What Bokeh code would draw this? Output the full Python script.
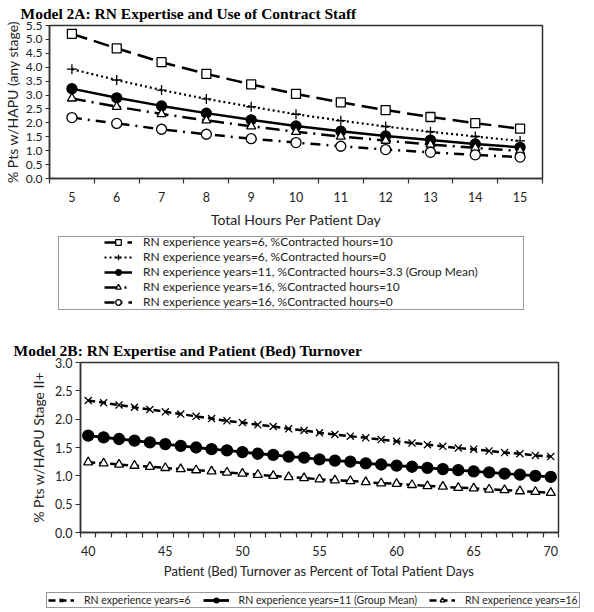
from bokeh.plotting import figure
from bokeh.models import FixedTicker, Legend, LegendItem, Range1d, NumeralTickFormatter
from bokeh.layouts import column
from bokeh.embed import file_html
from bokeh.resources import INLINE

# ---------------- data: Model 2A ----------------
hours = [5, 6, 7, 8, 9, 10, 11, 12, 13, 14, 15]
yrs6_ct10 = [5.20, 4.68, 4.18, 3.76, 3.38, 3.04, 2.74, 2.46, 2.21, 1.99, 1.79]
yrs6_ct0 = [3.93, 3.54, 3.18, 2.86, 2.58, 2.31, 2.08, 1.87, 1.68, 1.51, 1.35]
yrs11_ct33 = [3.23, 2.90, 2.61, 2.35, 2.11, 1.89, 1.70, 1.53, 1.38, 1.24, 1.12]
yrs16_ct10 = [2.88, 2.58, 2.32, 2.09, 1.88, 1.68, 1.51, 1.36, 1.22, 1.10, 0.99]
yrs16_ct0 = [2.19, 1.98, 1.77, 1.59, 1.43, 1.29, 1.16, 1.04, 0.94, 0.85, 0.77]
labels_2a = [
    "RN experience years=6, %Contracted hours=10",
    "RN experience years=6, %Contracted hours=0",
    "RN experience years=11, %Contracted hours=3.3 (Group Mean)",
    "RN experience years=16, %Contracted hours=10",
    "RN experience years=16, %Contracted hours=0",
]
yticks_2a = [0.0, 0.5, 1.0, 1.5, 2.0, 2.5, 3.0, 3.5, 4.0, 4.5, 5.0, 5.5]

# ---------------- data: Model 2B ----------------
turnover = list(range(40, 71))
yrs6 = [2.33, 2.29, 2.25, 2.21, 2.17, 2.13, 2.09, 2.05, 2.01, 1.97, 1.94,
        1.90, 1.87, 1.83, 1.80, 1.76, 1.73, 1.70, 1.67, 1.64, 1.61,
        1.58, 1.55, 1.52, 1.49, 1.47, 1.44, 1.41, 1.39, 1.36, 1.34]
yrs11 = [1.71, 1.68, 1.65, 1.62, 1.59, 1.56, 1.53, 1.50, 1.47, 1.45, 1.42,
         1.39, 1.37, 1.34, 1.32, 1.29, 1.27, 1.25, 1.22, 1.20, 1.18,
         1.16, 1.14, 1.12, 1.10, 1.08, 1.06, 1.04, 1.02, 1.00, 0.98]
yrs16 = [1.24, 1.22, 1.20, 1.18, 1.16, 1.14, 1.12, 1.10, 1.08, 1.06, 1.04,
         1.02, 1.00, 0.98, 0.96, 0.94, 0.92, 0.91, 0.89, 0.87, 0.86,
         0.84, 0.82, 0.81, 0.79, 0.78, 0.76, 0.75, 0.73, 0.72, 0.70]
labels_2b = ["RN experience years=6", "RN experience years=11 (Group Mean)",
             "RN experience years=16"]
yticks_2b = [0.0, 0.5, 1.0, 1.5, 2.0, 2.5, 3.0]
xlabels_2b = [40, 45, 50, 55, 60, 65, 70]

SANS = "Lato"
SERIF = "Liberation Serif"
INK = "#222222"
EDGE = "#333333"
W = 594


def style(p, title, title_offset):
    p.title.text = title
    p.title.text_font = SERIF
    p.title.text_font_size = "15.5px"
    p.title.text_font_style = "bold"
    p.title.text_color = "black"
    p.title.align = "left"
    p.title.vertical_align = "top"
    p.title.offset = title_offset
    p.title.standoff = 4
    p.xgrid.visible = False
    p.ygrid.visible = False
    p.outline_line_color = EDGE
    p.outline_line_width = 1.5
    for ax in (p.xaxis[0], p.yaxis[0]):
        ax.axis_line_color = EDGE
        ax.axis_line_width = 1.5
        ax.major_tick_line_color = EDGE
        ax.minor_tick_line_color = EDGE
        ax.major_tick_line_width = 1.2
        ax.minor_tick_line_width = 1.2
        ax.major_label_text_font = SANS
        ax.major_label_text_font_size = "12.5px"
        ax.major_label_text_color = INK
        ax.axis_label_text_font = SANS
        ax.axis_label_text_font_style = "normal"
        ax.axis_label_text_color = INK


def legend_fig(height):
    f = figure(width=W, height=height, output_backend="svg", toolbar_location=None,
               x_range=Range1d(0, 1), y_range=Range1d(0, 1),
               x_axis_location=None, y_axis_location=None,
               min_border_left=0, min_border_right=0, min_border_top=0,
               min_border_bottom=0, frame_align=False)
    f.outline_line_color = None
    f.xgrid.visible = False
    f.ygrid.visible = False
    return f


def style_legend(leg, size):
    leg.label_text_font = SANS
    leg.label_text_font_size = size
    leg.label_text_color = INK
    leg.background_fill_alpha = 0.0
    leg.border_line_color = None
    leg.spacing = 0
    leg.padding = 0
    leg.margin = 0


series_2a = [
    (yrs6_ct10, "16 7", 2.5, "square", "white", 9),
    (yrs6_ct0, "2 3", 2.2, "cross", "black", 10),
    (yrs11_ct33, "solid", 2.5, "circle", "black", 10),
    (yrs16_ct10, "14 6 2 6", 2.5, "triangle", "white", 9),
    (yrs16_ct0, "10 6 2 6", 2.5, "circle", "white", 10),
]
series_2b = [
    (yrs6, "7 4", 2.5, "x", "black", 10),
    (yrs11, "solid", 2.8, "circle", "black", 11),
    (yrs16, "7 4", 2.5, "triangle", "white", 9),
]

# ================= Figure 2A =================
p1 = figure(width=W, height=230, output_backend="svg", toolbar_location=None,
            x_range=Range1d(4.5, 15.5), y_range=Range1d(0, 5.5),
            min_border_left=42, min_border_right=52, min_border_top=25,
            min_border_bottom=51, frame_align=False)
style(p1, "Model 2A: RN Expertise and Use of Contract Staff", -29)

p1.yaxis[0].ticker = FixedTicker(ticks=yticks_2a)
p1.yaxis[0].formatter = NumeralTickFormatter(format="0.0")
p1.yaxis[0].major_tick_out = 4
p1.yaxis[0].major_tick_in = 0
p1.yaxis[0].minor_tick_out = 0
p1.yaxis[0].major_label_standoff = 3
p1.yaxis[0].major_label_text_font_size = "12px"
p1.yaxis[0].axis_label = "% Pts w/HAPU (any stage)"
p1.yaxis[0].axis_label_text_font_size = "14px"
p1.yaxis[0].axis_label_standoff = 2

p1.xaxis[0].ticker = FixedTicker(ticks=hours, minor_ticks=[h - 0.5 for h in hours] + [hours[-1] + 0.5])
p1.xaxis[0].major_tick_out = 0
p1.xaxis[0].major_tick_in = 0
p1.xaxis[0].minor_tick_out = 5
p1.xaxis[0].minor_tick_in = 0
p1.xaxis[0].major_label_standoff = 8
p1.xaxis[0].axis_label = "Total Hours Per Patient Day"
p1.xaxis[0].axis_label_text_font_size = "14px"
p1.xaxis[0].axis_label_standoff = 6

for ys, dash, lw, marker, fill, size in series_2a:
    p1.line(hours, ys, line_color="black", line_width=lw, line_dash=dash)
    p1.scatter(hours, ys, marker=marker, size=size, fill_color=fill,
               line_color="black", line_width=1.3)

# ----- legend strip for 2A (series drawn outside its visible range; only the legend shows) -----
lf1 = legend_fig(108)
box_src = lf1.line(hours, yrs6_ct10, line_alpha=0)
box1 = Legend(items=[LegendItem(label=" ", renderers=[box_src])], location=(58, 28))
style_legend(box1, "12px")
box1.label_height = 72
box1.glyph_height = 72
box1.glyph_width = 10
box1.label_standoff = 0
box1.label_width = 454
box1.border_line_color = EDGE
box1.border_line_width = 1.3
box1.background_fill_color = "white"
box1.background_fill_alpha = 1.0
lf1.add_layout(box1, "center")

items1 = []
for (ys, dash, lw, marker, fill, size), lab in zip(series_2a, labels_2a):
    ln = lf1.line(hours, ys, line_color="black", line_width=lw, line_dash=dash)
    sc = lf1.scatter(hours, ys, marker=marker, size=size * 0.8, fill_color=fill,
                     line_color="black", line_width=1.3)
    items1.append(LegendItem(label=lab, renderers=[ln, sc]))
leg1 = Legend(items=items1, location=(104, 29), orientation="vertical")
style_legend(leg1, "12px")
leg1.label_height = 14
leg1.glyph_height = 14
leg1.glyph_width = 28
leg1.label_standoff = 11
lf1.add_layout(leg1, "center")

# ================= Figure 2B =================
p2 = figure(width=W, height=243, output_backend="svg", toolbar_location=None,
            x_range=Range1d(39.5, 70.5), y_range=Range1d(0, 3.0),
            min_border_left=80, min_border_right=36, min_border_top=24,
            min_border_bottom=47, frame_align=False)
style(p2, "Model 2B: RN Expertise and Patient (Bed) Turnover", -67)

p2.yaxis[0].ticker = FixedTicker(ticks=yticks_2b)
p2.yaxis[0].formatter = NumeralTickFormatter(format="0.0")
p2.yaxis[0].major_tick_out = 5
p2.yaxis[0].major_tick_in = 0
p2.yaxis[0].minor_tick_out = 0
p2.yaxis[0].major_label_standoff = 3
p2.yaxis[0].axis_label = "% Pts w/HAPU Stage II+"
p2.yaxis[0].axis_label_text_font_size = "14px"
p2.yaxis[0].axis_label_standoff = 5

p2.xaxis[0].ticker = FixedTicker(ticks=xlabels_2b,
                                 minor_ticks=[t - 0.5 for t in turnover] + [turnover[-1] + 0.5])
p2.xaxis[0].major_tick_out = 0
p2.xaxis[0].major_tick_in = 0
p2.xaxis[0].minor_tick_out = 5
p2.xaxis[0].minor_tick_in = 0
p2.xaxis[0].major_label_standoff = 8
p2.xaxis[0].axis_label = "Patient (Bed) Turnover as Percent of Total Patient Days"
p2.xaxis[0].axis_label_text_font_size = "13px"
p2.xaxis[0].axis_label_standoff = 4

for ys, dash, lw, marker, fill, size in series_2b:
    p2.line(turnover, ys, line_color="black", line_width=lw, line_dash=dash)
    p2.scatter(turnover, ys, marker=marker, size=size, fill_color=fill,
               line_color="black", line_width=1.3)

# ----- legend strip for 2B -----
lf2 = legend_fig(30)
items2 = []
for (ys, dash, lw, marker, fill, size), lab in zip(series_2b, labels_2b):
    ln = lf2.line(turnover, ys, line_color="black", line_width=lw, line_dash=dash)
    sc = lf2.scatter(turnover, ys, marker=marker, size=size * 0.75, fill_color=fill,
                     line_color="black", line_width=1.3)
    items2.append(LegendItem(label=lab, renderers=[ln, sc]))
leg2 = Legend(items=items2, location=(46, 3), orientation="horizontal")
style_legend(leg2, "10.5px")
leg2.label_height = 12
leg2.glyph_height = 12
leg2.glyph_width = 26
leg2.spacing = 12
leg2.padding = 1
leg2.label_standoff = 10
leg2.border_line_color = EDGE
leg2.border_line_width = 1.3
leg2.background_fill_color = "white"
leg2.background_fill_alpha = 1.0
lf2.add_layout(leg2, "center")

layout = column(p1, lf1, p2, lf2, spacing=0)
open("out.html", "w").write(file_html(layout, INLINE))
